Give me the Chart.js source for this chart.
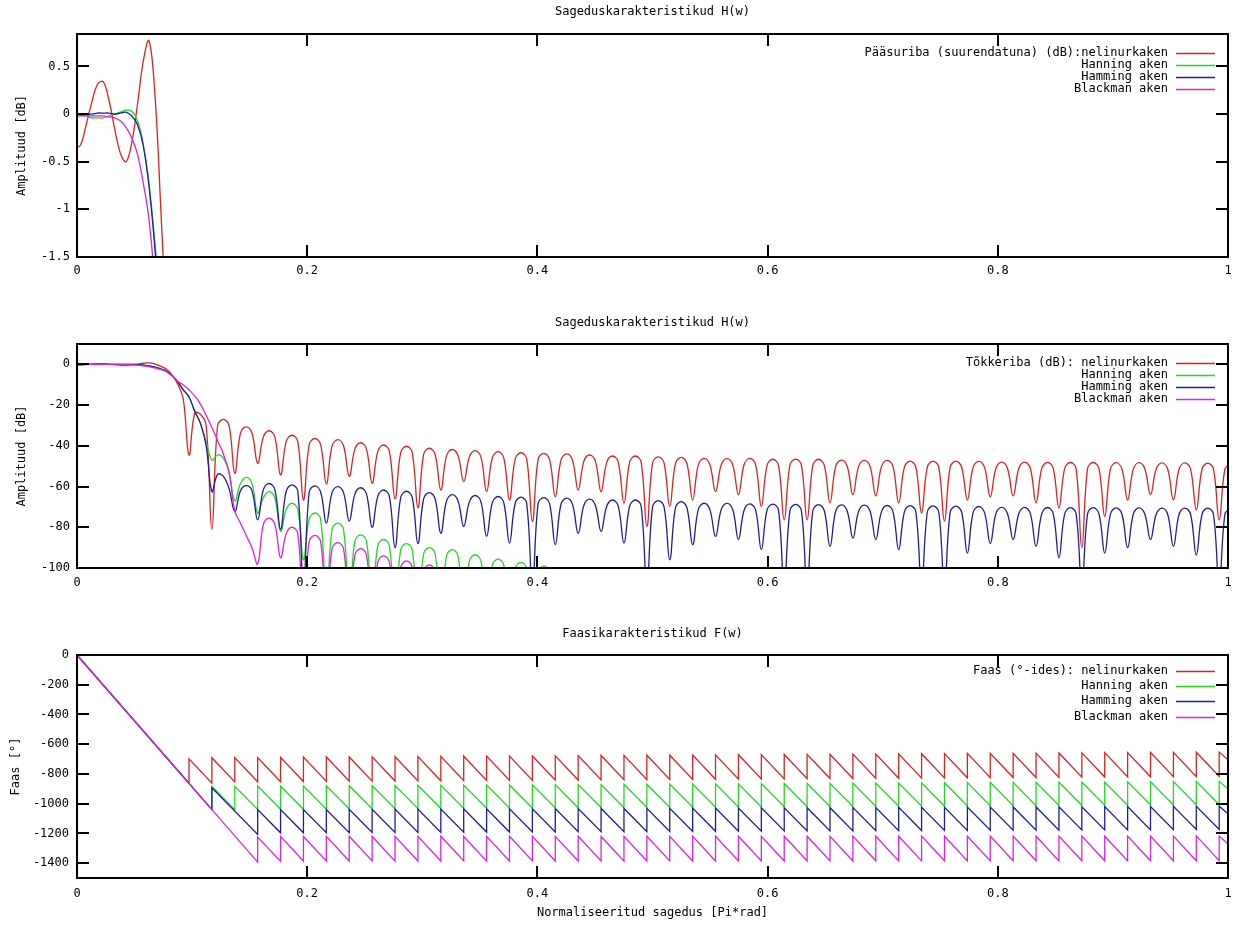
<!DOCTYPE html>
<html>
<head>
<meta charset="utf-8">
<title>Sageduskarakteristikud</title>
<script src="https://cdn.jsdelivr.net/npm/chart.js@4.4.0/dist/chart.umd.min.js"></script>
<style>
    body { margin: 0; background: #fff; }
    canvas { position: absolute; left: 0; }
</style>
</head>
<body>
<canvas id="pass" width="1239" height="292" style="top:0px"></canvas>
<canvas id="stop" width="1239" height="300" style="top:300px"></canvas>
<canvas id="phase" width="1239" height="316" style="top:610px"></canvas>
<script>
// frequency grid: 4 samples per sidelobe, nulls fall on every 4th sample from index 20
const FREQ_START = -0.00215;
const FREQ_STEP = 0.0049725;
const freq = Array.from({ length: 203 }, (_, i) => FREQ_START + i * FREQ_STEP);
const nullFreq = freq.filter((f, i) => i >= 20 && i <= 200 && (i - 20) % 4 === 0);

const freqTicks = [0, 0.2, 0.4, 0.6, 0.8, 1];
const passTicks = [-1.5, -1, -0.5, 0, 0.5];
const stopTicks = [-100, -80, -60, -40, -20, 0];
const phaseTicks = [-1400, -1200, -1000, -800, -600, -400, -200, 0];

const windowNames = ['Hanning aken', 'Hamming aken', 'Blackman aken'];

// amplitude [dB] - rectangular window
const redDb = [
    -0.35, -0.33, -0.12, 0.12, 0.31, 0.34, 0.15, -0.15, -0.41, -0.50,
    -0.30, 0.10, 0.55, 0.77, 0.25, -0.9, -2.3, -5.0, -9.5, -17,
    -44.5, -24, -24.5, -30,
    -81, -30, -27, -30,
    -53.5, -33.7, -30.7, -33.7,
    -48.6, -35.6, -32.6, -35.6,
    -54.3, -37.8, -34.8, -37.8,
    -66.6, -39.4, -36.4, -39.4,
    -58.8, -40, -37, -40,
    -55, -41.5, -38.5, -41.5,
    -58.4, -42.6, -39.6, -42.6,
    -66, -43.2, -40.2, -43.2,
    -70.5, -44.2, -41.2, -44.2,
    -61.7, -44.8, -41.8, -44.8,
    -57.6, -45.4, -42.4, -45.4,
    -62.5, -45.9, -42.9, -45.9,
    -66.6, -46.4, -43.4, -46.4,
    -77.2, -46.7, -43.7, -46.7,
    -65, -47, -44, -47,
    -61.7, -47.5, -44.5, -47.5,
    -62.5, -48, -45, -48,
    -68.2, -48, -45, -48,
    -79.6, -48.4, -45.4, -48.4,
    -69.8, -48.7, -45.7, -48.7,
    -66.6, -49.2, -46.2, -49.2,
    -62.5, -49.3, -46.3, -49.3,
    -64, -49.2, -46.2, -49.2,
    -69.8, -49.6, -46.6, -49.6,
    -76.4, -49.5, -46.5, -49.5,
    -76.4, -49.6, -46.6, -49.6,
    -68, -50, -47, -50,
    -64, -50.1, -47.1, -50.1,
    -64.6, -50.1, -47.1, -50.1,
    -68, -50.5, -47.5, -50.5,
    -73, -50.5, -47.5, -50.5,
    -77, -50.5, -47.5, -50.5,
    -66.6, -50.6, -47.6, -50.6,
    -65, -51, -48, -51,
    -64.6, -51, -48, -51,
    -68, -51.1, -48.1, -51.1,
    -70.6, -51.2, -48.2, -51.2,
    -90, -51.2, -48.2, -51.2,
    -74.7, -51.3, -48.3, -51.3,
    -66.6, -51.3, -48.3, -51.3,
    -64, -51.4, -48.4, -51.4,
    -66.6, -51.4, -48.4, -51.4,
    -71.5, -51.5, -48.5, -51.5,
    -76.4, -51.5, -48.5
];

// Hanning window
const greenDb = [
    0.00, -0.01, -0.02, -0.04, -0.04, -0.04, -0.02, 0.00, 0.02, 0.04,
    0.03, -0.07, -0.31, -0.72, -1.32, -2.1, -3.2, -5.4, -8.3, -12.5,
    -16, -23, -29, -38,
    -47, -44.5, -46, -53,
    -67, -58.5, -55.5, -58.5,
    -73, -65.5, -62.5, -65.5,
    -82, -71.2, -68.2, -71.2,
    -96, -76, -73, -76,
    -115, -81, -78, -81,
    -115, -86.7, -83.7, -86.7,
    -115, -89, -86, -89,
    -120, -91, -88, -91,
    -120, -93, -90, -93,
    -120, -94, -91, -94,
    -120, -96.5, -93.5, -96.5,
    -120, -98.6, -95.6, -98.6,
    -120, -100.2, -97.2, -100.2,
    -120, -102, -99, -102,
    -120
];

// Hamming window
const blueDb = [
    -0.02, -0.01, 0.00, 0.00, 0.01, 0.01, 0.01, 0.00, 0.01, 0.02,
    -0.02, -0.11, -0.33, -0.75, -1.38, -2.2, -3.3, -5.5, -8.5, -12.5,
    -16, -23, -29, -40,
    -62.5, -54, -55, -61,
    -72.3, -62, -59.5, -62,
    -76.4, -61.5, -58.5, -61.5,
    -81, -62.2, -59.2, -62.2,
    -110, -62.7, -59.7, -62.7,
    -78, -63, -60, -63,
    -77, -63.6, -60.6, -63.6,
    -80, -64.7, -61.7, -64.7,
    -90, -65.3, -62.3, -65.3,
    -88, -66, -63, -66,
    -83, -67, -64, -67,
    -79.6, -67.4, -64.4, -67.4,
    -84.5, -67.9, -64.9, -67.9,
    -87.8, -68.2, -65.2, -68.2,
    -110, -68.4, -65.4, -68.4,
    -88.6, -68.7, -65.7, -68.7,
    -83, -69.2, -66.2, -69.2,
    -82, -69.6, -66.6, -69.6,
    -87.8, -69.6, -66.6, -69.6,
    -110, -69.9, -66.9, -69.9,
    -96, -70.4, -67.4, -70.4,
    -88.6, -71.2, -68.2, -71.2,
    -84.5, -71.3, -68.3, -71.3,
    -86, -71.5, -68.5, -71.5,
    -91, -71.6, -68.6, -71.6,
    -110, -71.8, -68.8, -71.8,
    -110, -71.9, -68.9, -71.9,
    -89.4, -72, -69, -72,
    -85.3, -72.1, -69.1, -72.1,
    -86, -72.3, -69.3, -72.3,
    -91, -72.4, -69.4, -72.4,
    -110, -72.5, -69.5, -72.5,
    -110, -72.6, -69.6, -72.6,
    -92.7, -72.8, -69.8, -72.8,
    -88, -73.2, -70.2, -73.2,
    -86, -73.2, -70.2, -73.2,
    -89.4, -73.3, -70.3, -73.3,
    -95, -73.4, -70.4, -73.4,
    -110, -73.4, -70.4, -73.4,
    -92.7, -73.5, -70.5, -73.5,
    -90, -73.5, -70.5, -73.5,
    -86, -73.6, -70.6, -73.6,
    -89.4, -73.6, -70.6, -73.6,
    -93.7, -73.6, -70.6, -73.6,
    -110, -73.5, -70.5
];

// Blackman window
const magentaDb = [
    -0.02, -0.02, -0.02, -0.02, -0.02, -0.02, -0.03, -0.04, -0.07, -0.14,
    -0.25, -0.42, -0.72, -1.1, -1.75, -2.5, -3.5, -5.5, -8.3, -10,
    -12.5, -15.5, -19.5, -25,
    -31, -37.5, -44, -53,
    -72, -78, -84, -90,
    -98, -78.5, -75.5, -78.5,
    -95, -83, -80, -83,
    -120, -87, -84, -87,
    -120, -90.5, -87.5, -90.5,
    -120, -93.5, -90.5, -93.5,
    -120, -97, -94, -97,
    -120, -99.5, -96.5, -99.5,
    -120, -101.5, -98.5, -101.5,
    -120
];

// phase [deg]: value just before / just after the jump at each null, and at f = 1
const phaseAtZero = 0;
const redPhaseBottom = [
    -863, -862, -854, -853, -853, -851, -850, -849, -849, -848,
    -847, -846, -845, -844, -843, -843, -842, -841, -840, -839,
    -838, -837, -837, -836, -835, -834, -833, -832, -831, -831,
    -830, -829, -828, -827, -826, -825, -824, -824, -823, -822,
    -821, -820, -819, -818, -818, -817
];
const redPhaseTop = [
    -699, -691, -690, -690, -688, -687, -686, -686, -685, -684,
    -683, -682, -681, -680, -680, -679, -678, -677, -676, -675,
    -674, -674, -673, -672, -671, -670, -669, -668, -668, -667,
    -666, -665, -664, -663, -662, -661, -661, -660, -659, -658,
    -657, -656, -655, -655, -654, -653
];
const redPhaseEnd = -705;

const greenPhaseBottom = [
    null, -1040, -1040, -1039, -1038, -1038, -1037, -1036, -1035, -1034,
    -1034, -1033, -1032, -1031, -1031, -1030, -1029, -1028, -1027, -1027,
    -1026, -1025, -1024, -1024, -1023, -1022, -1021, -1020, -1020, -1019,
    -1018, -1017, -1017, -1016, -1015, -1014, -1013, -1013, -1012, -1011,
    -1010, -1010, -1009, -1008, -1007, -1006
];
const greenPhaseTop = [
    null, -884, -883, -882, -882, -881, -880, -879, -878, -878,
    -877, -876, -875, -875, -874, -873, -872, -871, -871, -870,
    -869, -868, -868, -867, -866, -865, -864, -864, -863, -862,
    -861, -861, -860, -859, -858, -857, -857, -856, -855, -854,
    -854, -853, -852, -851, -850, -850
];
const greenPhaseEnd = -900;

const bluePhaseBottom = [
    null, -1040, null, -1207, -1196, -1196, -1195, -1195, -1194, -1194,
    -1193, -1193, -1192, -1191, -1191, -1190, -1190, -1189, -1189, -1188,
    -1188, -1187, -1187, -1186, -1185, -1185, -1184, -1184, -1183, -1183,
    -1182, -1182, -1181, -1180, -1180, -1179, -1179, -1178, -1178, -1177,
    -1177, -1176, -1176, -1175, -1174, -1174
];
const bluePhaseTop = [
    null, -894, null, -1040, -1040, -1039, -1039, -1038, -1038, -1037,
    -1037, -1036, -1035, -1035, -1034, -1034, -1033, -1033, -1032, -1032,
    -1031, -1031, -1030, -1029, -1029, -1028, -1028, -1027, -1027, -1026,
    -1026, -1025, -1024, -1024, -1023, -1023, -1022, -1022, -1021, -1021,
    -1020, -1020, -1019, -1018, -1018, -1017
];
const bluePhaseEnd = -1068;

const magentaPhaseBottom = [
    null, null, null, -1393, -1388, -1386, -1387, -1386, -1385, -1387,
    -1386, -1386, -1385, -1387, -1386, -1385, -1386, -1386, -1385, -1387,
    -1386, -1385, -1386, -1386, -1385, -1385, -1386, -1385, -1385, -1386,
    -1384, -1385, -1385, -1384, -1385, -1385, -1384, -1384, -1385, -1384,
    -1384, -1385, -1384, -1384, -1384, -1383
];
const magentaPhaseTop = [
    null, null, null, -1225, -1220, -1221, -1220, -1219, -1221, -1220,
    -1220, -1219, -1221, -1220, -1219, -1220, -1220, -1219, -1221, -1220,
    -1219, -1220, -1220, -1219, -1219, -1220, -1219, -1219, -1220, -1218,
    -1219, -1219, -1218, -1219, -1219, -1218, -1218, -1219, -1218, -1218,
    -1219, -1218, -1218, -1218, -1217, -1218
];
const magentaPhaseEnd = -1270;

const RED = '#dd2020';
const GREEN = '#22d822';
const BLUE = '#1c1ca6';
const MAGENTA = '#e020e0';
const TIC = 12;

Chart.defaults.font.family = '"DejaVu Sans Mono", monospace';
Chart.defaults.font.size = 12;
Chart.defaults.color = '#000';

// gnuplot style border with inward, mirrored tics
const gnuFrame = {
    id: 'gnuFrame',
    afterDatasetsDraw(chart) {
        const { ctx, chartArea: a, scales: { x, y } } = chart;
        ctx.save();
        ctx.strokeStyle = '#000';
        ctx.lineWidth = 2;
        ctx.beginPath();
        x.ticks.forEach(t => {
            const px = Math.round(x.getPixelForValue(t.value));
            ctx.moveTo(px, a.bottom); ctx.lineTo(px, a.bottom - TIC);
            ctx.moveTo(px, a.top); ctx.lineTo(px, a.top + TIC);
        });
        y.ticks.forEach(t => {
            const py = Math.round(y.getPixelForValue(t.value));
            ctx.moveTo(a.left, py); ctx.lineTo(a.left + TIC, py);
            ctx.moveTo(a.right, py); ctx.lineTo(a.right - TIC, py);
        });
        ctx.stroke();
        ctx.strokeRect(a.left, a.top, a.right - a.left, a.bottom - a.top);
        ctx.restore();
    }
};

// key in the top right corner: text right aligned, line sample after it
function gnuKey(rowTop, rowGap) {
    return {
        id: 'gnuKey',
        afterDatasetsDraw(chart) {
            const { ctx, chartArea: a } = chart;
            ctx.save();
            ctx.font = '12px "DejaVu Sans Mono", monospace';
            ctx.textAlign = 'right';
            ctx.textBaseline = 'middle';
            chart.data.datasets.forEach((ds, i) => {
                const y = Math.round(a.top + rowTop + i * rowGap);
                ctx.fillStyle = '#000';
                ctx.fillText(ds.label, a.right - 60, y);
                ctx.strokeStyle = ds.borderColor;
                ctx.lineWidth = 1.3;
                ctx.beginPath();
                ctx.moveTo(a.right - 52, y + 0.5);
                ctx.lineTo(a.right - 13, y + 0.5);
                ctx.stroke();
            });
            ctx.restore();
        }
    };
}

function phasePoints(bottoms, tops, end) {
    const pts = [{ x: 0, y: phaseAtZero }];
    nullFreq.forEach((f, k) => {
        if (tops[k] === null) return;
        pts.push({ x: f, y: bottoms[k] }, { x: f, y: tops[k] });
    });
    pts.push({ x: 1, y: end });
    return pts;
}

function lineStyle(ds, tension) {
    return Object.assign(ds, { borderWidth: 1.3, pointRadius: 0, fill: false, tension: tension });
}

function ampDatasets(redLabel) {
    return [
        { label: redLabel, data: redDb, borderColor: RED, order: 4 },
        { label: windowNames[0], data: greenDb, borderColor: GREEN, order: 3 },
        { label: windowNames[1], data: blueDb, borderColor: BLUE, order: 2 },
        { label: windowNames[2], data: magentaDb, borderColor: MAGENTA, order: 1 }
    ].map(ds => lineStyle(ds, 0.4));
}

function xScale(axisHeight, labelPad, title) {
    return {
        type: 'linear',
        min: 0,
        max: 1,
        afterBuildTicks: s => { s.ticks = freqTicks.map(v => ({ value: v })); },
        afterFit: s => { s.height = axisHeight; s.paddingLeft = 0; s.paddingRight = 0; },
        grid: { display: false, drawTicks: false },
        border: { display: false },
        ticks: { padding: labelPad, maxRotation: 0, autoSkip: false, callback: v => String(v) },
        title: title || { display: false }
    };
}

function yScale(min, max, tickValues, labelPad, title, titlePad) {
    return {
        min: min,
        max: max,
        afterBuildTicks: s => { s.ticks = tickValues.map(v => ({ value: v })); },
        afterFit: s => { s.width = 77; s.paddingTop = 0; s.paddingBottom = 0; },
        grid: { display: false, drawTicks: false },
        border: { display: false },
        ticks: { padding: labelPad, autoSkip: false, callback: v => String(v) },
        title: { display: true, text: title, padding: { top: titlePad, bottom: 0 } }
    };
}

function baseOptions(titleText, titlePad) {
    return {
        responsive: false,
        animation: false,
        devicePixelRatio: 1,
        layout: { padding: { left: 0, right: 11, top: 0, bottom: 0 } },
        plugins: {
            legend: { display: false },
            tooltip: { enabled: false },
            title: { display: true, text: titleText, fullSize: false, padding: titlePad, font: { size: 12, weight: 'normal' } }
        }
    };
}

// pass band, zoomed
new Chart(document.getElementById('pass'), {
    type: 'line',
    data: { labels: freq, datasets: ampDatasets('Pääsuriba (suurendatuna) (dB):nelinurkaken') },
    options: Object.assign(baseOptions('Sageduskarakteristikud H(w)', { top: 4.8, bottom: 14.8 }), {
        scales: {
            x: xScale(35, 7),
            y: yScale(-1.5, 0.84, passTicks, 7, 'Amplituud [dB]', 14.5)
        }
    }),
    plugins: [gnuFrame, gnuKey(18.7, 12)]
});

// stop band
new Chart(document.getElementById('stop'), {
    type: 'line',
    data: { labels: freq, datasets: ampDatasets('Tõkkeriba (dB): nelinurkaken') },
    options: Object.assign(baseOptions('Sageduskarakteristikud H(w)', { top: 15.8, bottom: 13.8 }), {
        scales: {
            x: xScale(32, 8),
            y: yScale(-100, 10, stopTicks, 7, 'Amplituud [dB]', 14.5)
        }
    }),
    plugins: [gnuFrame, gnuKey(18.7, 12.2)]
});

// phase
new Chart(document.getElementById('phase'), {
    type: 'line',
    data: {
        datasets: [
            { label: 'Faas (°-ides): nelinurkaken', data: phasePoints(redPhaseBottom, redPhaseTop, redPhaseEnd), borderColor: RED, order: 4 },
            { label: windowNames[0], data: phasePoints(greenPhaseBottom, greenPhaseTop, greenPhaseEnd), borderColor: GREEN, order: 3 },
            { label: windowNames[1], data: phasePoints(bluePhaseBottom, bluePhaseTop, bluePhaseEnd), borderColor: BLUE, order: 2 },
            { label: windowNames[2], data: phasePoints(magentaPhaseBottom, magentaPhaseTop, magentaPhaseEnd), borderColor: MAGENTA, order: 1 }
        ].map(ds => lineStyle(ds, 0))
    },
    options: Object.assign(baseOptions('Faasikarakteristikud F(w)', { top: 16.8, bottom: 13.8 }), {
        scales: {
            x: xScale(48, 9, { display: true, text: 'Normaliseeritud sagedus [Pi*rad]', padding: { top: 0, bottom: 5.8 } }),
            y: yScale(-1500, 0, phaseTicks, 8, 'Faas [°]', 8.8)
        }
    }),
    plugins: [gnuFrame, gnuKey(16, 15.2)]
});
</script>
</body>
</html>
